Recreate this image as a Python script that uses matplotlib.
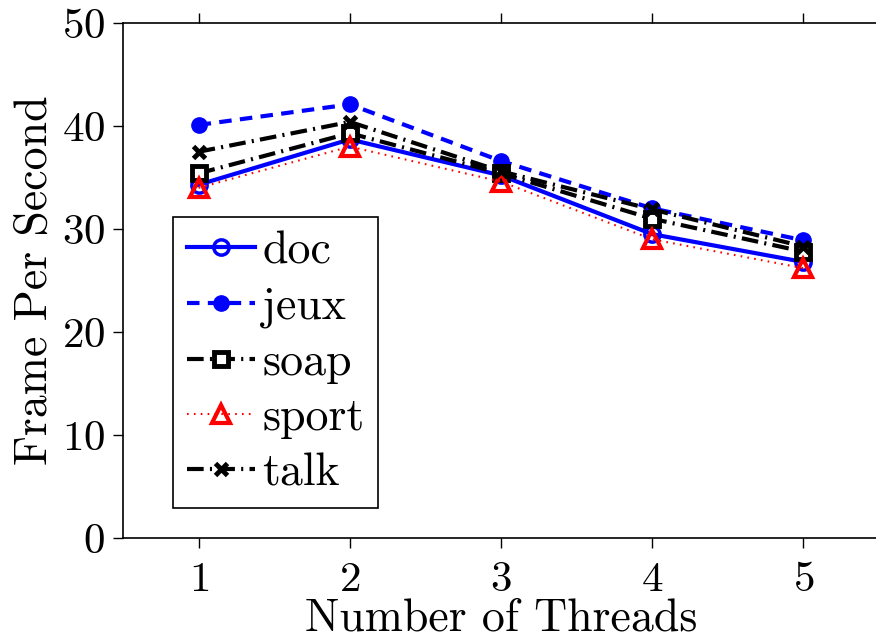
import matplotlib
matplotlib.use("Agg")
import matplotlib.pyplot as plt

threads = [1, 2, 3, 4, 5]
doc = [34.3, 38.7, 35.2, 29.5, 26.8]
jeux = [40.1, 42.1, 36.6, 32.0, 28.9]
soap = [35.4, 39.3, 35.4, 31.0, 27.8]
sport = [34.0, 38.0, 34.6, 29.0, 26.2]
talk = [37.5, 40.4, 35.6, 31.9, 28.3]

plt.rcParams["font.family"] = "serif"
plt.rcParams["font.serif"] = ["cmr10"]
plt.rcParams["axes.formatter.use_mathtext"] = True
plt.rcParams["mathtext.fontset"] = "cm"

fig = plt.figure(figsize=(8.76, 6.4), dpi=100)
ax = fig.add_axes([123 / 876, 102 / 640, 756 / 876, 515 / 640])

ax.plot(threads, doc, color="blue", linestyle="-", linewidth=3,
        marker="o", markersize=11, markerfacecolor="none",
        markeredgewidth=2.5, label="doc")
ax.plot(threads, jeux, color="blue", linestyle=(0, (3, 2)), linewidth=3,
        marker="o", markersize=11, markerfacecolor="blue",
        markeredgewidth=1, label="jeux")
ax.plot(threads, soap, color="black", linestyle=(0, (4, 1.5, 0.5, 1.5)), linewidth=3,
        marker="s", markersize=10, markerfacecolor="white",
        markeredgewidth=3.5, label="soap")
ax.plot(threads, sport, color="red", linestyle=(0, (0.8, 2.5)), linewidth=1.5,
        marker="^", markersize=13, markerfacecolor="none",
        markeredgewidth=3, label="sport")
ax.plot(threads, talk, color="black", linestyle=(0, (4, 1.5, 0.5, 1.5)), linewidth=3,
        marker="x", markersize=9, markeredgewidth=3.5, label="talk")

ax.set_xlim(0.5, 5.5)
ax.set_ylim(0, 50)
ax.set_xticks(threads)
ax.set_yticks([0, 10, 20, 30, 40, 50])
ax.tick_params(direction="out", length=7, width=1, labelsize=31, pad=10,
               top=True, right=False)
ax.tick_params(axis="y", pad=6)
ax.spines["right"].set_visible(False)
for s in ax.spines.values():
    s.set_linewidth(1.2)

ax.set_xlabel("Number of Threads", fontsize=33, labelpad=-1)
ax.set_ylabel("Frame Per Second", fontsize=33, labelpad=4)

leg = ax.legend(loc="lower left", bbox_to_anchor=(0.066, 0.058),
                borderaxespad=0, fontsize=33, handlelength=1.5,
                labelspacing=0.3, handletextpad=0.15, borderpad=0.3,
                fancybox=False, framealpha=1, edgecolor="black")
leg.get_frame().set_linewidth(1.2)

fig.savefig("out.png", dpi=100)
